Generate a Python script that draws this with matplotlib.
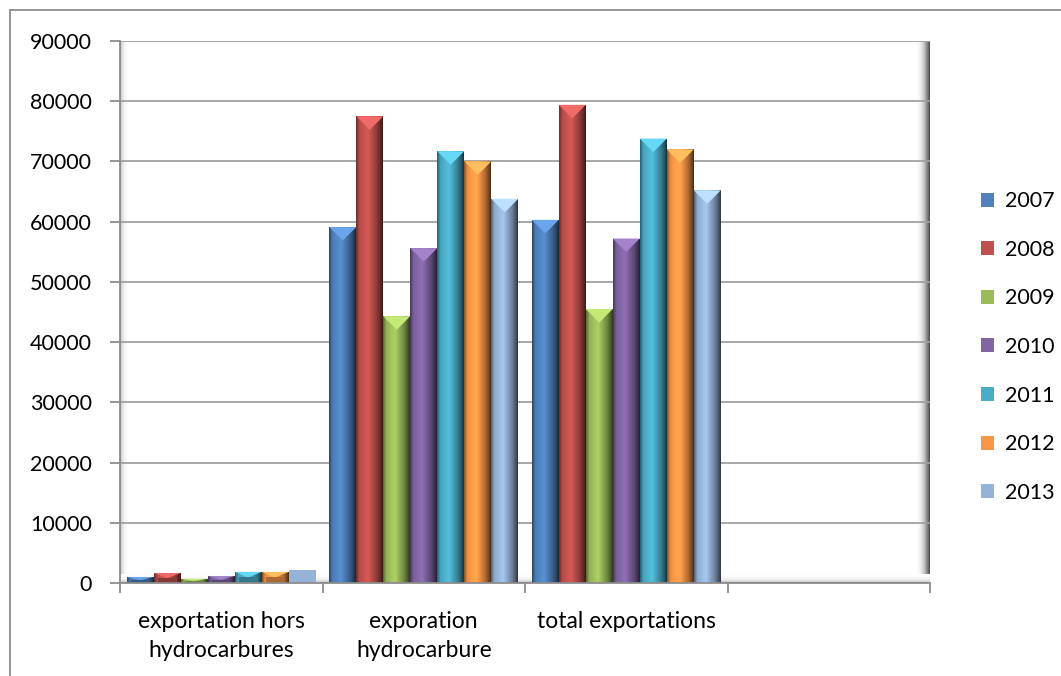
import numpy as np
import matplotlib
matplotlib.use("Agg")
import matplotlib.pyplot as plt
from matplotlib.patches import Polygon, Rectangle, Patch
from matplotlib.colors import to_rgb

# --- data ---
categories = ["exportation hors\nhydrocarbures", "exporation\nhydrocarbure", "total exportations", ""]
years = ["2007", "2008", "2009", "2010", "2011", "2012", "2013"]
hors_hydro = [1000, 1650, 700, 1150, 1850, 1850, 2150]
hydro = [59100, 77500, 44300, 55600, 71700, 70000, 63800]
total = [60300, 79400, 45500, 57200, 73800, 72000, 65200]
values = np.array([hors_hydro, hydro, total])  # rows = categories with data

colors = ["#4F81BD", "#C0504D", "#9BBB59", "#8064A2", "#4BACC6", "#F79646", "#95B3D7"]

plt.rcParams["font.family"] = ["Lato", "DejaVu Sans"]

W, H = 1061, 676
fig = plt.figure(figsize=(W / 100, H / 100), dpi=100)
ax = fig.add_axes([120 / W, 1 - 583 / H, 810 / W, 542 / H])

ymax = 90000
ax.set_xlim(-0.5, 3.5)
ax.set_ylim(0, ymax)

# pixels per data unit (for bevel depth)
px_per_y = 542 / ymax
px_per_x = 810 / 4

bw = 27 / px_per_x
n = len(years)

# decorative walls
grad = np.linspace(0, 1, 64)
right_wall = np.outer(np.ones(2), grad ** 1.5)
ax.imshow(right_wall, extent=[1 - 13 / 810, 1, 0, 1], transform=ax.transAxes,
          cmap="Greys", vmin=-0.05, vmax=1.3, aspect="auto", zorder=0.5)
left_wall = np.outer(np.ones(2), grad[::-1] ** 2)
ax.imshow(left_wall, extent=[0, 9 / 810, 0, 1], transform=ax.transAxes,
          cmap="Greys", vmin=0, vmax=2.5, aspect="auto", zorder=0.5)
floor = np.outer(grad ** 2, np.ones(2))
ax.imshow(floor, extent=[0, 1, 0, 9 / 542], transform=ax.transAxes,
          cmap="Greys", vmin=0, vmax=2.5, aspect="auto", zorder=0.5)

ax.set_yticks(np.arange(0, ymax + 1, 10000))
ax.grid(axis="y", color="#A0A0A0", lw=1.3, zorder=1)
ax.set_axisbelow(True)

# horizontal shading profile for bevelled bars
t = np.linspace(0, 1, 60)
profile = np.interp(t, [0, 0.06, 0.12, 0.45, 0.8, 0.94, 1.0],
                    [0.55, 0.75, 0.95, 1.12, 0.7, 0.45, 0.3])

for j, (yr, c) in enumerate(zip(years, colors)):
    xs = np.arange(values.shape[0]) + (j - (n - 1) / 2) * bw
    bars = ax.bar(xs, values[:, j], width=bw, color=c, zorder=2, linewidth=0)
    base = np.array(to_rgb(c))
    for b in bars:
        x0, w, h = b.get_x(), b.get_width(), b.get_height()
        if j == n - 1 and h < 3000:
            continue  # small 2013 bar is drawn flat
        img = np.clip(base[None, None, :] * profile[None, :, None], 0, 1)
        im = ax.imshow(img, extent=[x0, x0 + w, 0, h], aspect="auto", zorder=2.1)
        im.set_clip_path(b)
        d = min(13.5 / px_per_y, h / 2)
        top = Polygon([[x0, h], [x0 + w, h], [x0 + w / 2, h - d]], closed=True,
                      facecolor=np.clip(base * 1.18 + 0.05, 0, 1), edgecolor="none", zorder=2.2)
        ax.add_patch(top)
        if h < 3000:
            ax.add_patch(Rectangle((x0 + w * 0.15, 0), w * 0.7, h - d, facecolor=base * 0.7,
                                   edgecolor="none", zorder=2.2))

# axes styling
for s in ["top", "right"]:
    ax.spines[s].set_visible(False)
ax.spines["left"].set_color("#8C8C8C")
ax.spines["left"].set_linewidth(1.3)
ax.spines["bottom"].set_color("#8C8C8C")
ax.spines["bottom"].set_linewidth(1.3)
ax.spines["bottom"].set_zorder(3)

ax.set_xticks(np.arange(-0.5, 3.6, 1))
ax.set_xticklabels([])
ax.set_xticks(np.arange(0, 4), minor=True)
ax.set_xticklabels(categories, minor=True, fontsize=16.5, linespacing=1.5)
ax.tick_params(axis="x", which="major", length=7, color="#8C8C8C", width=1.3)
ax.tick_params(axis="x", which="minor", length=0, pad=20)
ax.tick_params(axis="y", length=7, color="#8C8C8C", width=1.3, labelsize=15.5, pad=13)
ax.set_yticklabels([str(v) for v in range(0, ymax + 1, 10000)])

# legend
handles = [Patch(facecolor=c, edgecolor="none") for c in colors]
fig.legend(handles, years, loc="center left", bbox_to_anchor=(970 / W, 1 - 347 / H),
           frameon=False, fontsize=15.5, handlelength=0.62, handleheight=0.62,
           labelspacing=1.33, handletextpad=0.5, borderpad=0)

# outer frame (only left and top are visible in the reference)
fig.add_artist(plt.Line2D([10 / W, 10 / W], [0, 1 - 10 / H], transform=fig.transFigure,
                          color="#8C8C8C", lw=1.3))
fig.add_artist(plt.Line2D([10 / W, 1], [1 - 10 / H, 1 - 10 / H], transform=fig.transFigure,
                          color="#8C8C8C", lw=1.3))

fig.savefig("out.png", dpi=100)
